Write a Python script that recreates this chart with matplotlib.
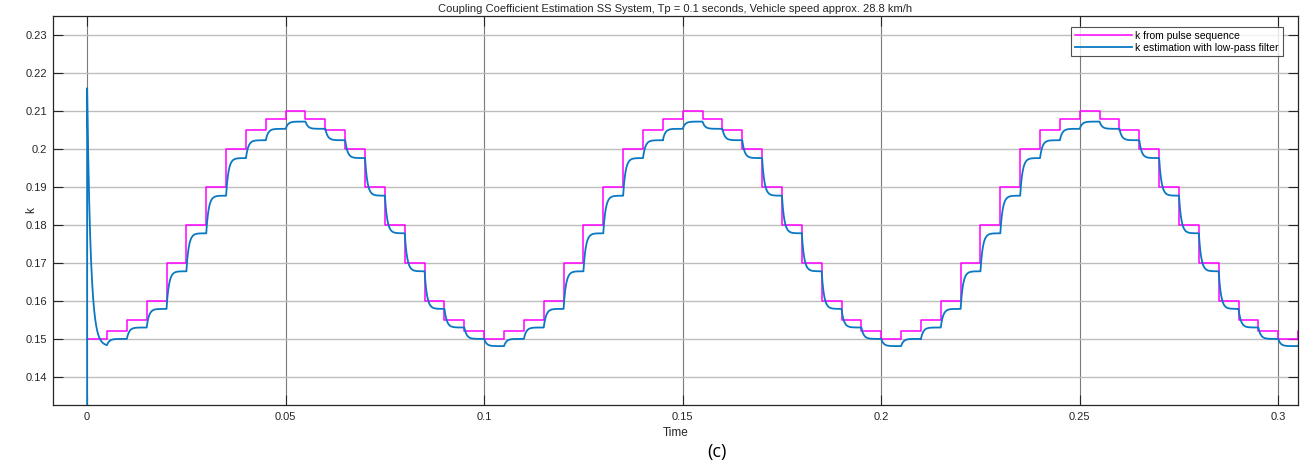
import numpy as np
import matplotlib
matplotlib.use('Agg')
import matplotlib.pyplot as plt

plt.rcParams['font.family'] = ['Liberation Sans', 'DejaVu Sans']

# one period (0.1 s) of the sampled coupling coefficient, 0.005 s per step
step_dt = 0.005
pulse_period = [0.150, 0.152, 0.155, 0.160, 0.170, 0.180, 0.190, 0.200, 0.205, 0.208,
                0.210, 0.208, 0.205, 0.200, 0.190, 0.180, 0.170, 0.160, 0.155, 0.152]
# settled level of the low-pass estimate on each step
filt_period = [0.1481, 0.1500, 0.1530, 0.1579, 0.1678, 0.1778, 0.1877, 0.1976, 0.2023, 0.2053,
               0.2072, 0.2053, 0.2023, 0.1976, 0.1877, 0.1778, 0.1678, 0.1579, 0.1530, 0.1500]
n_periods = 4
spike_peak = 0.216   # start of filter transient
spike_tau = 0.0009
filt_tau = 0.0006

pulse = np.tile(pulse_period, n_periods)
filt = np.tile(filt_period, n_periods)
t_steps = np.arange(len(pulse)) * step_dt

# staircase for the pulse sequence
t_pulse = np.append(t_steps, t_steps[-1] + step_dt)
k_pulse = np.append(pulse, pulse[-1])

# low-pass response on each step
t_est = [0.0]
k_est = [0.0]
prev = spike_peak
for i, t0 in enumerate(t_steps):
    tt = np.linspace(t0, t0 + step_dt, 120)
    tau = spike_tau if i == 0 else filt_tau
    yy = filt[i] + (prev - filt[i]) * np.exp(-(tt - t0) / tau)
    t_est.extend(tt)
    k_est.extend(yy)
    prev = yy[-1]

fig = plt.figure(figsize=(13.03, 4.72), dpi=100)
ax = fig.add_axes([52.7 / 1303, 1 - 405 / 472, 1245 / 1303, 389 / 472])

ax.plot(t_pulse, k_pulse, drawstyle='steps-post', color='#ff00ff', lw=1.1,
        label='k from pulse sequence')
ax.plot(t_est, k_est, color='#0a78c2', lw=1.3,
        label='k estimation with low-pass filter')

ax.set_xlim(-0.00867, 0.3049)
ax.set_ylim(0.1326, 0.235)
ax.set_xticks(np.arange(0, 0.301, 0.05))
ax.set_xticklabels(['0', '0.05', '0.1', '0.15', '0.2', '0.25', '0.3'])
ax.set_yticks(np.arange(0.14, 0.2301, 0.01))
ax.set_yticklabels(['0.14', '0.15', '0.16', '0.17', '0.18', '0.19', '0.2', '0.21', '0.22', '0.23'])

ax.tick_params(direction='in', length=7, width=0.8, top=True, right=True,
               labelsize=8, colors='#262626')
ax.tick_params(axis='x', pad=5)
ax.tick_params(axis='y', pad=4)
ax.yaxis.grid(True, color='#bdbdbd', lw=1.0)
ax.xaxis.grid(True, color='#7a7a7a', lw=0.8)
ax.set_axisbelow(True)
for s in ax.spines.values():
    s.set_color('#262626')
    s.set_linewidth(0.9)

ax.set_title('Coupling Coefficient Estimation SS System, Tp = 0.1 seconds, Vehicle speed approx. 28.8 km/h',
             fontsize=8, color='#262626', pad=3)
ax.set_xlabel('Time', fontsize=8.5, color='#262626', labelpad=4)
ax.set_ylabel('k', fontsize=8.5, color='#262626')
ax.yaxis.set_label_coords(-0.0125, 0.5)

leg = ax.legend(loc='upper right', fontsize=7.5, frameon=True, fancybox=False,
                edgecolor='#262626', borderpad=0.35, handlelength=5.5, handletextpad=0.3,
                labelspacing=0.2, bbox_to_anchor=(0.992, 0.985))
leg.get_frame().set_linewidth(0.8)

fig.text(717 / 1303, 1 - 452 / 472, '(c)', fontsize=13, ha='center', va='center',
         family=['Open Sans', 'DejaVu Sans'])

fig.savefig('out.png', dpi=100)
